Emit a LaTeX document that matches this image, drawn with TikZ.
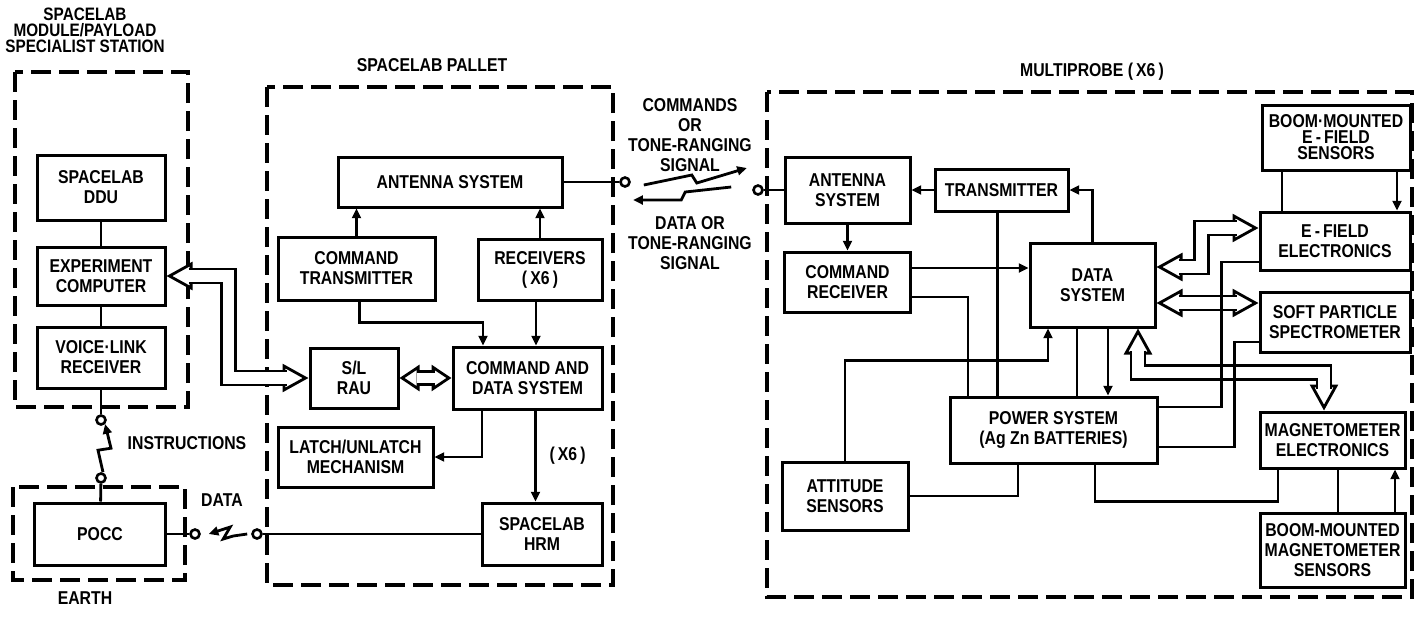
\documentclass[tikz,border=0pt]{standalone}
\usepackage{fontspec}
\setmainfont{Liberation Sans}[FakeStretch=0.85]
\usetikzlibrary{arrows.meta,positioning}

\begin{document}
\begin{tikzpicture}[x=0.5pt, y=-0.5pt,
  every node/.style={font=\bfseries\fontsize{9.3}{10}\selectfont, align=center},
  unit/.style={draw, line width=1.5pt, fill=white, inner sep=1pt},
  region/.style={draw, line width=1.6pt, dash pattern=on 10pt off 4pt},
  link/.style={-{Triangle[length=4.8pt, width=4.4pt]}, line width=1.4pt},
  wire/.style={line width=1.4pt},
  term/.style={circle, draw, line width=1.3pt, fill=white, minimum size=4.5pt, inner sep=0pt},
  bus/.style={draw=white, line width=1.4pt,
    {Triangle[color=black, fill=white, length=13pt, width=14pt]}-{Triangle[color=black, fill=white, length=13pt, width=14pt]},
    postaction={draw=black, arrows=-, double=white, double distance=5.6pt, shorten <=11pt, shorten >=11pt}},
  shortbus/.style={draw=white, line width=1.4pt,
    {Triangle[color=black, fill=white, length=10pt, width=13pt]}-{Triangle[color=black, fill=white, length=10pt, width=13pt]},
    postaction={draw=black, arrows=-, double=white, double distance=5pt, shorten <=8.5pt, shorten >=8.5pt}}
]
\useasboundingbox (0,0) rectangle (1415,617);

% regions
\draw[region] (15,72) rectangle (188,407);
\draw[region] (13,487) rectangle (185,580);
\draw[region] (267,87) rectangle (613,585);
\draw[region] (767,92) rectangle (1412,597);

\node[font=\bfseries\fontsize{9}{8}\selectfont] (sttitle) at (85,30) {SPACELAB\\MODULE/PAYLOAD\\SPECIALIST STATION};
\node (paltitle) at (432,65) {SPACELAB PALLET};
\node (mptitle) at (1092,72) {MULTIPROBE (\,X6\,)};
\node (earth) at (85,598) {EARTH};

% station and earth
\node[unit, minimum width=64pt, minimum height=32.5pt] (ddu) at (101,187.5) {SPACELAB\\DDU};
\node[unit, minimum width=64pt, minimum height=29pt] (expcomp) at (101,276) {EXPERIMENT\\COMPUTER};
\node[unit, minimum width=64pt, minimum height=30.5pt] (voicerx) at (101,357.5) {VOICE·LINK\\RECEIVER};
\node[unit, minimum width=65.5pt, minimum height=31pt] (pocc) at (100,534) {POCC};
\node[term] (tvoice) at (101,420) {};
\node[term] (tpocc) at (101,478) {};
\node[term] (tearth) at (195,534) {};
\node (instr) at (187,443) {INSTRUCTIONS};
\node (datatxt) at (222,500) {DATA};

% pallet
\node[unit, minimum width=112pt, minimum height=25pt] (palant) at (450,182) {ANTENNA SYSTEM};
\node[unit, minimum width=78.5pt, minimum height=31.5pt] (cmdtx) at (356.5,268.5) {COMMAND\\TRANSMITTER};
\node[unit, minimum width=62pt, minimum height=30.5pt] (rcvrs) at (540,269.5) {RECEIVERS\\(\,X6\,)};
\node[unit, minimum width=44pt, minimum height=30pt] (rau) at (354,378) {S/L\\RAU};
\node[unit, minimum width=74.5pt, minimum height=31pt] (cds) at (527.5,378) {COMMAND AND\\DATA SYSTEM};
\node[unit, minimum width=77.5pt, minimum height=30pt] (latch) at (355.5,457) {LATCH/UNLATCH\\MECHANISM};
\node[unit, minimum width=60pt, minimum height=31pt] (hrm) at (542,534) {SPACELAB\\HRM};
\node[term] (tpal) at (625,182) {};
\node[term] (tpalhrm) at (257,534) {};

% link labels
\node (cmdlbl) at (690,135) {COMMANDS\\OR\\TONE-RANGING\\SIGNAL};
\node (datalbl) at (690,243) {DATA OR\\TONE-RANGING\\SIGNAL};

% multiprobe
\node[unit, minimum width=62.5pt, minimum height=33pt] (mpant) at (847.5,190) {ANTENNA\\SYSTEM};
\node[unit, minimum width=63pt, minimum height=30pt] (cmdrx) at (847.5,282) {COMMAND\\RECEIVER};
\node[unit, minimum width=66.5pt, minimum height=21pt] (xmtr) at (1001.5,190) {TRANSMITTER};
\node[unit, minimum width=62.5pt, minimum height=42pt] (datasys) at (1092.5,285) {DATA\\SYSTEM};
\node[unit, minimum width=103.5pt, minimum height=33pt] (power) at (1053.5,430) {POWER SYSTEM\\(Ag Zn BATTERIES)};
\node[unit, minimum width=63pt, minimum height=34pt] (attitude) at (845,496) {ATTITUDE\\SENSORS};
\node[unit, minimum width=74pt, minimum height=32.5pt] (efsens) at (1336,137.5) {BOOM·MOUNTED\\[-2pt]E\,-\,FIELD\\[-2pt]SENSORS};
\node[unit, minimum width=75pt, minimum height=29pt] (efelec) at (1335,241) {E\,-\,FIELD\\ELECTRONICS};
\node[unit, minimum width=75pt, minimum height=30pt] (spspec) at (1335,322) {SOFT PARTICLE\\SPECTROMETER};
\node[unit, minimum width=72.5pt, minimum height=28pt] (magelec) at (1332.5,440) {MAGNETOMETER\\ELECTRONICS};
\node[unit, minimum width=72.5pt, minimum height=37pt] (magsens) at (1332.5,550) {BOOM-MOUNTED\\MAGNETOMETER\\SENSORS};
\node[term] (tmp) at (758,190) {};

% buses
\draw[bus] (expcomp.east) -- ++(62,0) |- (rau.west);
\draw[shortbus] (rau) -- (cds);
\draw[bus] ([yshift=9pt]datasys.east) -- ++(45,0) |- ([yshift=6.5pt]efelec.west);
\draw[bus] ([yshift=-9pt]datasys.east) -- ([yshift=-9pt]datasys.east -| spspec.west);
\draw[bus] ([xshift=22.75pt]datasys.south) -- ++(0,44) -| ([xshift=-4.25pt]magelec.north);

% station links
\draw[wire] (ddu) -- (expcomp);
\draw[wire] (expcomp) -- (voicerx);
\draw[wire] (voicerx) -- (tvoice);
\draw[wire] (tpocc) -- (pocc);
\draw[wire] (pocc) -- (tearth);
\draw[link] ([xshift=1pt]tpocc.north) -- ++(-5,-22) -- ++(13,-2) -- (tvoice.south east);
\draw[link] ([xshift=-2pt]tpalhrm.west) -- ++(-14,2) -- ++(-10,3) -- ++(7,-12) -- ([xshift=4pt]tearth.east);

% pallet links
\draw[wire] (hrm) -- (tpalhrm);
\draw[wire] (palant) -- (tpal);
\draw[link] (cmdtx.north) -- (cmdtx.north |- palant.south);
\draw[link] (rcvrs.north) -- (rcvrs.north |- palant.south);
\draw[link] ([xshift=1.5pt]cmdtx.south) -- ++(0,21) -| ([xshift=-22.25pt]cds.north);
\draw[link] ([xshift=-2pt]rcvrs.south) -- ([xshift=-2pt]rcvrs.south |- cds.north);
\draw[link] ([xshift=-22.75pt]cds.south) |- (latch.east);
\draw[link] ([xshift=4pt]cds.south) -- ([xshift=4pt]cds.south |- hrm.north) node[midway, right=3pt] {(\,X6\,)};

% radio links
\draw[link] ([xshift=6.5pt, yshift=-1.5pt]tpal.east) -- ++(48,-10) -- ++(5,8) -- ++(50,-15);
\draw[link] ([xshift=-10.5pt, yshift=1.5pt]tmp.west) -- ++(-46,5) -- ++(-4,8) -- ++(-48,0);

% multiprobe links
\draw[wire] (tmp) -- (mpant);
\draw[link] (mpant) -- (cmdrx);
\draw[link] (xmtr) -- (mpant);
\draw[link] (datasys.north) |- (xmtr.east);
\draw[wire] ([xshift=-2pt]xmtr.south) -- ([xshift=-2pt]xmtr.south |- power.north);
\draw[link] ([yshift=7pt]cmdrx.east) -- ([yshift=7pt]cmdrx.east -| datasys.west);
\draw[wire] ([yshift=-7.5pt]cmdrx.east) -| ([xshift=-42.75pt]power.north);
\draw[link] (attitude.north) -- ++(0,-100) -| ([xshift=-22.25pt]datasys.south);
\draw[wire] ([xshift=-7.75pt]datasys.south) -- ([xshift=-7.75pt]datasys.south |- power.north);
\draw[link] ([xshift=7.75pt]datasys.south) -- ([xshift=7.75pt]datasys.south |- power.north);
\draw[wire] (attitude.east) -| ([xshift=-17.75pt]power.south);
\draw[wire] ([xshift=20.75pt]power.south) -- ++(0,37) -| ([xshift=-27.25pt]magelec.south);
\draw[wire] ([yshift=11.5pt]power.east) -- ++(63,0) |- ([yshift=-10.5pt]efelec.west);
\draw[wire] ([yshift=-8.5pt]power.east) -- ++(76,0) |- ([yshift=-10pt]spspec.west);
\draw[wire] ([xshift=-27pt]efsens.south) -- ([xshift=-27pt]efsens.south |- efelec.north);
\draw[link] ([xshift=30.5pt]efsens.south) -- ([xshift=30.5pt]efsens.south |- efelec.north);
\draw[wire] ([xshift=2.75pt]magsens.north) -- ([xshift=2.75pt]magsens.north |- magelec.south);
\draw[link] ([xshift=31.25pt]magsens.north) -- ([xshift=31.25pt]magsens.north |- magelec.south);
\end{tikzpicture}
\end{document}
